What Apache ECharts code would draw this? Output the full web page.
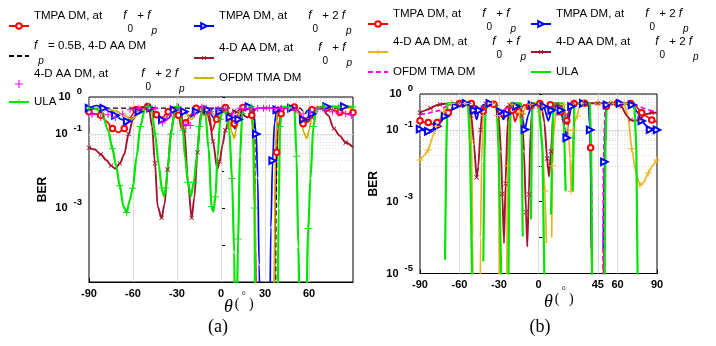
<!DOCTYPE html>
<html>
<head>
<meta charset="utf-8">
<script src="https://cdn.jsdelivr.net/npm/echarts@6/dist/echarts.min.js"></script>
<style>
html, body { margin: 0; padding: 0; background: #fff; }
#chart { width: 716px; height: 346px; }
</style>
</head>
<body>
<div id="chart"></div>
<script>
// ---- panel (a): [theta (deg), BER] ----
const aTmpa1 = [[-90,0.40],[-86,0.35],[-82,0.32],[-78,0.22],[-74,0.14],[-70,0.11],[-66,0.14],[-62,0.28],[-58,0.45],[-54,0.54],[-50,0.55],[-47,0.47],[-44,0.33],[-40,0.28],[-36,0.40],[-32,0.52],[-29,0.32],[-27,0.14],[-24,0.20],[-21,0.32],[-17,0.50],[-13,0.55],[-10,0.40],[-6,0.126],[-3,0.25],[0,0.45],[3,0.52],[6,0.35],[9,0.19],[12,0.35],[15,0.52],[19,0.50],[21,0.32],[22.5,0.032],[23.5,1e-4],[24.5,1e-7],[36,1e-7],[37,1e-3],[38,0.032],[39,0.15],[41,0.35],[44,0.52],[50,0.54],[53,0.40],[56,0.19],[59,0.28],[62,0.45],[66,0.54],[72,0.50],[77,0.44],[81,0.39],[86,0.35],[90,0.38]];
const aTmpa2 = [[-90,0.50],[-85,0.59],[-80,0.50],[-76,0.40],[-72,0.32],[-68,0.25],[-64,0.22],[-60,0.27],[-56,0.40],[-52,0.54],[-48,0.50],[-44,0.35],[-40,0.24],[-36,0.26],[-32,0.45],[-29,0.55],[-25,0.40],[-21,0.28],[-17,0.40],[-13,0.54],[-9,0.45],[-5,0.28],[-1,0.40],[3,0.50],[6,0.28],[9.5,0.14],[12,0.25],[15,0.50],[19,0.55],[22,0.45],[24,0.1],[25,6.6e-3],[26,3e-5],[27,1e-7],[33,1e-7],[34,3e-4],[35.2,0.019],[36.5,0.2],[38,0.45],[41,0.54],[48,0.50],[52,0.40],[56,0.25],[59,0.22],[62,0.35],[66,0.54],[72,0.55],[78,0.55],[84,0.55],[90,0.54]];
const aFp05 = [[-90,0.5],[-60,0.5],[-30,0.5],[0,0.5],[6,0.5],[9,0.42],[10.5,0.36],[12,0.45],[14,0.5],[22,0.5],[23,0.1],[24,1e-7],[37,1e-7],[37.6,1e-3],[38.3,0.25],[39,0.5],[54,0.5],[56,0.42],[57.5,0.36],[59,0.45],[61,0.5],[90,0.5]];
const aAa1 = [[-90,0.043],[-86,0.038],[-82,0.028],[-78,0.0195],[-75,0.014],[-72,0.0115],[-69,0.016],[-66,0.028],[-63,0.1],[-60,0.25],[-56,0.45],[-52,0.55],[-49,0.45],[-47,0.16],[-45,0.016],[-43.2,1.1e-3],[-40.5,5.4e-4],[-38.5,1.26e-3],[-36.4,0.011],[-34,0.126],[-31,0.50],[-28,0.50],[-25,0.126],[-22.5,5e-3],[-20,5.4e-4],[-18.2,1.9e-3],[-16,0.032],[-14,0.32],[-11,0.54],[-8,0.32],[-5.5,0.063],[-2.5,0.0112],[-1,0.018],[1,0.05],[3,0.126],[6,0.32],[9,0.42],[12,0.38],[15,0.33],[18,0.28],[21,0.40],[25,0.50],[30,0.50],[35,0.50],[40,0.50],[45,0.50],[50,0.50],[53,0.40],[56,0.25],[59,0.21],[62,0.28],[65,0.48],[69,0.50],[73,0.32],[77,0.14],[81,0.089],[85,0.059],[90,0.044]];
const aAa2 = [[-88,0.33],[-82,0.28],[-77,0.33],[-72,0.28],[-67,0.35],[-62,0.45],[-56,0.50],[-50,0.54],[-45,0.48],[-40,0.2],[-37,0.27],[-34,0.35],[-29,0.54],[-24,0.18],[-21,0.17],[-18,0.35],[-13,0.54],[-7,0.40],[-2,0.46],[3,0.50],[8,0.35],[13,0.50],[17,0.50],[21,0.50],[25,0.50],[29,0.50],[33,0.50],[37,0.50],[41,0.50],[46,0.48],[51,0.45],[56,0.35],[61,0.40],[66,0.47],[71,0.45],[76,0.40],[80,0.37],[85,0.35],[89,0.32]];
const aOfdm = [[-90,0.50],[-80,0.50],[-72,0.42],[-66,0.32],[-61,0.25],[-56,0.35],[-51,0.52],[-46,0.45],[-42,0.28],[-39,0.22],[-35,0.35],[-30,0.54],[-25,0.40],[-20,0.25],[-16,0.40],[-12,0.54],[-7,0.40],[-3,0.28],[1,0.40],[5,0.32],[7.5,0.11],[9,0.076],[10.5,0.14],[13,0.45],[17,0.54],[21,0.45],[23,0.032],[24,1e-7],[36,1e-7],[37,0.032],[38.5,0.40],[42,0.54],[50,0.50],[54,0.32],[56.5,0.11],[58.4,0.076],[60,0.126],[62.5,0.40],[66,0.54],[90,0.50]];
const aUla = [[-90,0.50],[-85,0.47],[-81,0.35],[-77,0.126],[-74,0.04],[-71.5,0.0138],[-69,4e-3],[-66.5,1.1e-3],[-64.3,7.6e-4],[-62.2,1.6e-3],[-60.2,3.4e-3],[-57.5,0.025],[-55,0.16],[-52,0.45],[-49.5,0.56],[-47,0.40],[-45,0.1],[-42.3,0.0138],[-40.5,3.5e-3],[-38.9,2.1e-3],[-37.5,3.5e-3],[-36.4,0.0112],[-34,0.1],[-32,0.35],[-30,0.55],[-28,0.45],[-26,0.126],[-24.5,0.023],[-22.5,5e-3],[-20.5,2.1e-3],[-18.5,5e-3],[-16.5,0.025],[-14.5,0.16],[-12.7,0.54],[-10.5,0.32],[-8.5,0.04],[-6.4,1.1e-3],[-5.2,8e-4],[-3.8,2e-3],[-2.3,0.025],[-0.5,0.25],[1.5,0.52],[3.5,0.40],[5.7,0.123],[7.5,6.3e-3],[9,6.3e-5],[9.8,1e-7],[10.8,1e-6],[11.6,1.45e-4],[13,0.025],[14.5,0.35],[16,0.54],[20.5,0.54],[21.8,0.16],[22.8,1e-3],[23.5,1e-7],[38.5,1e-7],[39.3,1e-3],[40.3,0.16],[41.5,0.54],[46,0.54],[50,0.54],[51.5,0.025],[52.7,9e-5],[54,1e-7],[57.5,1e-7],[59.5,2.8e-4],[61,6.3e-3],[63,0.16],[65,0.50],[70,0.54],[75,0.54],[80,0.54],[85,0.54],[90,0.54]];

// ---- panel (b) ----
const bTmpa1 = [[-90,0.18],[-86,0.16],[-83.7,0.16],[-80,0.14],[-77,0.16],[-73,0.22],[-68.5,0.30],[-64,0.45],[-60,0.54],[-55,0.55],[-51,0.54],[-47,0.45],[-42,0.33],[-38,0.45],[-34,0.52],[-30,0.35],[-27,0.28],[-24,0.45],[-20,0.35],[-17.8,0.17],[-15,0.32],[-11,0.50],[-7,0.45],[-3,0.50],[1,0.54],[5,0.45],[9,0.50],[13,0.54],[17,0.32],[19,0.21],[21.5,0.18],[24,0.40],[27,0.54],[31,0.55],[35,0.55],[38.5,0.45],[39.6,0.032],[40.3,1.1e-5],[40.8,1e-7],[49,1e-7],[49.6,1e-4],[50.2,0.0126],[51.5,0.45],[54,0.55],[60,0.55],[66,0.55],[70,0.54],[74,0.45],[78.4,0.30],[82,0.24],[86,0.19],[90,0.166]];
const bTmpa2 = [[-90,0.105],[-86,0.095],[-83.7,0.091],[-80,0.105],[-77,0.126],[-75,0.155],[-71,0.24],[-67.3,0.33],[-63,0.45],[-59.7,0.51],[-55,0.55],[-51,0.50],[-49,0.35],[-47,0.195],[-45,0.35],[-42,0.50],[-37,0.55],[-33,0.50],[-29,0.32],[-26.7,0.195],[-24,0.28],[-21,0.35],[-17,0.45],[-13,0.28],[-10.3,0.102],[-8,0.25],[-5,0.50],[0,0.55],[4,0.45],[7.5,0.178],[10,0.35],[13,0.54],[17,0.35],[19.5,0.126],[21.4,0.06],[23,0.2],[25,0.45],[28,0.55],[34,0.55],[38,0.50],[39.2,0.1],[40.3,5e-5],[44.7,null],[49.2,5e-5],[50,0.0129],[51,0.25],[52,0.50],[56,0.55],[62,0.55],[68,0.55],[71,0.50],[75,0.32],[78.4,0.178],[82,0.13],[84.7,0.102],[87.2,0.112],[90,0.1]];
const bAa1 = [[-90,0.0145],[-86.5,0.02],[-83.7,0.0275],[-80.5,0.063],[-77.3,0.126],[-74.5,0.22],[-72,0.32],[-69,0.47],[-66,0.54],[-60,0.55],[-55,0.54],[-52,0.40],[-50.8,0.05],[-50,1e-4],[-49.5,1e-7],[-44.5,1e-7],[-44,1e-4],[-43.2,0.013],[-42,0.25],[-40,0.50],[-35,0.55],[-32,0.35],[-31.3,0.25],[-30.3,0.03],[-29.5,1e-7],[-24.5,1e-7],[-23.5,0.01],[-22.5,0.3],[-20,0.52],[-16,0.50],[-14.5,0.3],[-13.3,0.12],[-12,0.28],[-10,0.45],[-6,0.52],[-2,0.52],[1,0.32],[3,0.03],[4.9,2e-3],[6,7e-5],[8,null],[10,1e-4],[10.6,0.01],[11.3,0.063],[13,0.25],[16,0.45],[19,0.50],[21,0.25],[22.6,0.098],[24,0.016],[24.7,1.95e-3],[25.6,0.016],[26.5,0.1],[28,0.2],[29.5,0.245],[31,0.45],[34,0.55],[40,0.55],[45,0.55],[50,0.55],[55,0.55],[60,0.55],[65,0.55],[68,0.25],[70.8,0.03],[74,6.3e-3],[77.1,2.9e-3],[80,3.5e-3],[83.4,6.3e-3],[86.5,0.01],[89.7,0.0145]];
const bAa2 = [[-90,0.30],[-86,0.35],[-82,0.40],[-78,0.48],[-74.8,0.51],[-70,0.54],[-60,0.55],[-54,0.54],[-51,0.25],[-49,0.04],[-47,4.8e-3],[-45.7,9.5e-3],[-44,0.1],[-42.5,0.40],[-40,0.54],[-33,0.55],[-30.5,0.32],[-28.5,0.025],[-27.5,1.66e-3],[-26.2,7e-5],[-25,3.2e-3],[-23.5,0.16],[-22,0.50],[-15,0.55],[-12.5,0.25],[-11,0.025],[-9.5,5.1e-4],[-8.5,5.6e-5],[-7.3,1.6e-3],[-6,0.1],[-4.5,0.45],[-1,0.55],[2,0.50],[4.5,0.16],[6.5,0.016],[8,5e-3],[9.5,0.025],[11.3,0.32],[14,0.52],[18,0.45],[21,0.16],[23,0.32],[26.5,0.55],[30,0.55],[35,0.55],[40,0.55],[45,0.55],[50,0.55],[55,0.55],[60,0.55],[63,0.45],[67,0.25],[70,0.19],[73.3,0.178],[77,0.2],[80.9,0.27],[86,0.30],[90,0.30]];
const bOfdm = [[-90,0.27],[-85,0.28],[-80,0.32],[-75,0.35],[-70,0.45],[-65,0.52],[-55,0.55],[-50,0.50],[-46,0.35],[-42,0.45],[-37,0.54],[-32,0.50],[-28,0.32],[-24,0.40],[-19,0.45],[-15,0.40],[-11,0.32],[-7,0.45],[-2,0.52],[4,0.50],[8,0.35],[12,0.50],[17,0.40],[20,0.25],[24,0.40],[28,0.54],[35,0.55],[39,0.50],[40.5,2e-3],[41.2,1e-7],[48.7,1e-7],[49.3,0.0126],[50.5,0.32],[52,0.54],[60,0.55],[70,0.54],[75,0.48],[80,0.40],[86,0.34],[90,0.32]];
const bUla = [[-71,2.4e-5],[-70,0.03],[-69.2,0.55],[-62,0.55],[-53.5,0.55],[-52,0.03],[-50.5,1e-5],[-49.5,1e-7],[-46,null],[-41.9,2.2e-5],[-41,0.03],[-40.1,0.55],[-36,0.55],[-31.8,0.55],[-30.3,0.03],[-28.5,2e-5],[-28,1e-7],[-25,null],[-23.2,1e-7],[-22,0.03],[-21.1,0.55],[-17,0.55],[-13.3,0.55],[-12.6,0.03],[-12,1.07e-4],[-9,null],[-5.7,3.2e-4],[-5.2,0.03],[-4.7,0.55],[0,0.55],[1.5,0.55],[3,0.03],[4.4,1e-5],[5,1e-7],[7,null],[9.5,4.4e-4],[10.4,0.03],[11.3,0.55],[15,0.55],[18.9,0.55],[19.8,0.03],[20.6,1.95e-3],[23,null],[26,1.95e-3],[26.6,0.03],[27.2,0.55],[33,0.55],[39,0.55],[40,0.03],[41,1e-7],[45,null],[50,1e-7],[50.8,0.03],[51.8,0.55],[60,0.55],[66,0.55],[72.8,0.55],[74.3,0.03],[75.8,1e-7]];

// ---- ticks ----
const aXTicks = [-90, -60, -30, 0, 30, 60];
const bXTicks = [-90, -60, -30, 0, 45, 60, 90];
const aYExps = [0, -1, -3];
const bYExps = [0, -1, -3, -5];

const SANS = '"Liberation Sans", Arial, sans-serif';
const SERIF = '"Liberation Serif", "Times New Roman", serif';
const PLUS = 'path://M4.3,0H5.7V10H4.3Z M0,4.3H10V5.7H0Z';
const COL = { red: '#ff0000', blue: '#0000ff', dred: '#a2142f', mag: '#ff00ff', olive: '#c9b100', green: '#00e600', orange: '#edb120', black: '#000000' };

function mkSeries(id, g, data, color, o) {
    o = o || {};
    const sym = o.symbol || 'none';
    const step = o.step || 2;
    const minMark = o.minMark || 2e-3;
    return {
        name: id, type: 'line', xAxisIndex: g, yAxisIndex: g,
        data: data.map((p, i) => (sym !== 'none' && i % step === 0 && p[1] !== null && p[1] >= minMark)
            ? p : { value: p, symbol: 'none' }),
        symbol: sym, symbolSize: o.size || 6, symbolRotate: o.rotate || 0,
        showAllSymbol: true,
        smooth: o.smooth === undefined ? 0.3 : o.smooth, smoothMonotone: 'x',
        connectNulls: false, clip: true, animation: false,
        lineStyle: { color: color, width: o.width || 1.7, type: o.dash ? [5, 3] : 'solid', opacity: o.noLine ? 0 : 1 },
        itemStyle: { color: color, borderColor: color, borderWidth: o.bw === undefined ? 1 : o.bw },
        emphasis: { disabled: true }
    };
}

// grid lines (major solid, minor dotted) drawn as mark lines
function gridLines(g, xs, majorExps) {
    const d = [];
    for (let k = -5; k < 0; k++) {
        for (let m = 2; m <= 9; m++) {
            d.push({ yAxis: m * Math.pow(10, k), lineStyle: { color: '#d4d4d4', type: [1, 2], width: 0.8 } });
        }
    }
    majorExps.filter(e => e < 0 && e > -5).forEach(e => d.push({ yAxis: Math.pow(10, e), lineStyle: { color: '#dcdcdc', type: 'solid', width: 1 } }));
    xs.filter(v => v > -90 && v < 90).forEach(v => d.push({ xAxis: v, lineStyle: { color: '#dcdcdc', type: 'solid', width: 1 } }));
    return {
        type: 'line', xAxisIndex: g, yAxisIndex: g, data: [], silent: true, animation: false,
        markLine: { silent: true, symbol: ['none', 'none'], label: { show: false }, animation: false, z: 1, data: d }
    };
}

function xAxisOf(g, ticks) {
    return {
        gridIndex: g, type: 'value', min: -90, max: 90, interval: 15,
        axisLine: { show: true, lineStyle: { color: '#000', width: 1 } },
        axisTick: { show: true, inside: true, length: 4, customValues: ticks, lineStyle: { color: '#000' } },
        axisLabel: { customValues: ticks, color: '#000', fontWeight: 'bold', fontSize: 11, fontFamily: SANS, margin: 6 },
        splitLine: { show: false }
    };
}

function yAxisOf(g, exps, gap) {
    return {
        gridIndex: g, type: 'log', logBase: 10, min: 1e-5, max: 1,
        axisLine: { show: true, lineStyle: { color: '#000', width: 1 } },
        axisTick: { show: true, inside: true, length: 4, lineStyle: { color: '#000' } },
        axisLabel: {
            margin: 7,
            formatter: v => {
                const e = Math.round(Math.log10(v));
                return exps.indexOf(e) >= 0 ? '{b|10}{e|' + e + '}' : '';
            },
            rich: {
                b: { color: '#000', fontWeight: 'bold', fontSize: 11, fontFamily: SANS },
                e: { color: '#000', fontWeight: 'bold', fontSize: 9.5, fontFamily: SANS, padding: [0, 0, 11, 6] }
            }
        },
        splitLine: { show: false },
        name: 'BER', nameLocation: 'middle', nameGap: gap, nameRotate: 90,
        nameTextStyle: { color: '#000', fontWeight: 'bold', fontSize: 12, fontFamily: SANS }
    };
}

const labels = {
    a_tmpa1: '{t|TMPA DM, at}{g1| }{f|f}{s|0}{t| + }{f|f}{sp|p}',
    a_tmpa2: '{t|TMPA DM, at}{g1| }{f|f}{s|0}{t| + 2 }{f|f}{sp|p}',
    a_fp: '{f|f}{sp|p}{t| = 0.5B, 4-D AA DM}',
    a_aa1: '{t|4-D AA DM, at}{g| }{f|f}{s|0}{t| + }{f|f}{sp|p}',
    a_aa2: '{t|4-D AA DM, at}{gw| }{f|f}{s|0}{t| + 2 }{f|f}{sp|p}',
    a_ofdm: '{t|OFDM TMA DM}',
    a_ula: '{t|ULA}',
    b_tmpa1: '{t|TMPA DM, at}{g1| }{f|f}{s|0}{t| + }{f|f}{sp|p}',
    b_tmpa2: '{t|TMPA DM, at}{g1| }{f|f}{s|0}{t| + 2 }{f|f}{sp|p}',
    b_aa1: '{t|4-D AA DM, at}{g| }{f|f}{s|0}{t| + }{f|f}{sp|p}',
    b_aa2: '{t|4-D AA DM, at}{g| }{f|f}{s|0}{t| + 2 }{f|f}{sp|p}',
    b_ofdm: '{t|OFDM TMA DM}',
    b_ula: '{t|ULA}'
};
// series drawn without markers: hide the legend symbol, keep the line
const noMarker = ['a_fp', 'a_ofdm', 'b_ofdm', 'b_ula'];

const legendRich = {
    t: { color: '#000', fontSize: 11.5, fontFamily: SANS, verticalAlign: 'top' },
    f: { color: '#000', fontSize: 12, fontStyle: 'italic', fontFamily: SANS, verticalAlign: 'top' },
    s: { color: '#000', fontSize: 10, fontFamily: SANS, verticalAlign: 'top', padding: [14, 1, 8, 1] },
    sp: { color: '#000', fontSize: 10, fontStyle: 'italic', fontFamily: SANS, verticalAlign: 'top', padding: [16, 1, 6, 1] },
    g1: { width: 21, verticalAlign: 'top', fontSize: 11.5 },
    g: { width: 25, verticalAlign: 'top', fontSize: 11.5 },
    gw: { width: 33, verticalAlign: 'top', fontSize: 11.5 }
};

const legendPos = [
    ['a_tmpa1', 8, 10], ['a_tmpa2', 193, 10], ['a_fp', 8, 40], ['a_aa1', 193, 42],
    ['a_aa2', 8, 68], ['a_ofdm', 193, 72], ['a_ula', 8, 96],
    ['b_tmpa1', 367, 8], ['b_tmpa2', 530, 8], ['b_aa1', 367, 36], ['b_aa2', 530, 36],
    ['b_ofdm', 367, 66], ['b_ula', 530, 66]
];

const thetaRich = {
    th: { fontSize: 18, fontStyle: 'italic', fontFamily: SERIF, color: '#000' },
    p: { fontSize: 14, fontFamily: SERIF, color: '#000', padding: [0, 1, 5, 2] },
    d: { fontSize: 11, fontFamily: SERIF, color: '#000', padding: [0, 1, 22, 1] }
};

const chart = echarts.init(document.getElementById('chart'), null, { renderer: 'canvas' });
const option = {
    backgroundColor: '#ffffff',
    animation: false,
    grid: [
        { left: 89, top: 97, width: 264, height: 185, show: true, borderColor: '#000', borderWidth: 1, backgroundColor: 'transparent' },
        { left: 420, top: 94, width: 237, height: 179.5, show: true, borderColor: '#000', borderWidth: 1, backgroundColor: 'transparent' }
    ],
    xAxis: [xAxisOf(0, aXTicks), xAxisOf(1, bXTicks)],
    yAxis: [yAxisOf(0, aYExps, 40), yAxisOf(1, bYExps, 40)],
    legend: legendPos.map(([name, left, top]) => ({
        data: [name], left: left, top: top, padding: 0, itemWidth: 20,
        itemHeight: name === 'a_aa2' ? 10 : 7,
        selectedMode: false, formatter: n => labels[n],
        itemStyle: noMarker.indexOf(name) >= 0 ? { opacity: 0 } : {},
        textStyle: { color: '#000', fontFamily: SANS, rich: legendRich }
    })),
    graphic: [
        { type: 'text', x: 224, y: 307, style: { text: '{th|θ}{p|(}{d|°}{p|)}', rich: thetaRich, verticalAlign: 'middle' } },
        { type: 'text', x: 544, y: 302, style: { text: '{th|θ}{p|(}{d|°}{p|)}', rich: thetaRich, verticalAlign: 'middle' } },
        { type: 'text', x: 218, y: 327, style: { text: '(a)', font: '18px ' + SERIF, fill: '#000', align: 'center', verticalAlign: 'middle' } },
        { type: 'text', x: 540, y: 327, style: { text: '(b)', font: '18px ' + SERIF, fill: '#000', align: 'center', verticalAlign: 'middle' } }
    ],
    series: [
        gridLines(0, aXTicks, aYExps),
        gridLines(1, bXTicks, bYExps),
        mkSeries('a_tmpa1', 0, aTmpa1, COL.red, { symbol: 'emptyCircle', size: 5.5 }),
        mkSeries('a_tmpa2', 0, aTmpa2, COL.blue, { symbol: 'emptyTriangle', rotate: -90, size: 6.5 }),
        mkSeries('a_fp', 0, aFp05, COL.black, { dash: true, width: 1.3 }),
        mkSeries('a_aa1', 0, aAa1, COL.dred, { symbol: PLUS, rotate: 45, size: 6, bw: 0, minMark: 5e-4, width: 1.9 }),
        mkSeries('a_aa2', 0, aAa2, COL.mag, { symbol: PLUS, size: 7, bw: 0, step: 1, noLine: true }),
        mkSeries('a_ofdm', 0, aOfdm, COL.olive, {}),
        mkSeries('a_ula', 0, aUla, COL.green, { symbol: PLUS, size: 7, bw: 0, width: 2.2, minMark: 5e-5 }),
        mkSeries('b_tmpa1', 1, bTmpa1, COL.red, { symbol: 'emptyCircle', size: 5.5, smooth: 0.15 }),
        mkSeries('b_tmpa2', 1, bTmpa2, COL.blue, { symbol: 'emptyTriangle', rotate: -90, size: 6.5, smooth: 0.15 }),
        mkSeries('b_aa1', 1, bAa1, COL.orange, { symbol: PLUS, size: 7, bw: 0, smooth: 0.15, minMark: 1e-3 }),
        mkSeries('b_aa2', 1, bAa2, COL.dred, { symbol: PLUS, rotate: 45, size: 6, bw: 0, smooth: 0.15, minMark: 5e-4, width: 1.9 }),
        mkSeries('b_ofdm', 1, bOfdm, COL.mag, { dash: true, smooth: 0.15 }),
        mkSeries('b_ula', 1, bUla, COL.green, { width: 2.2, smooth: false })
    ]
};
chart.setOption(option);
</script>
</body>
</html>
